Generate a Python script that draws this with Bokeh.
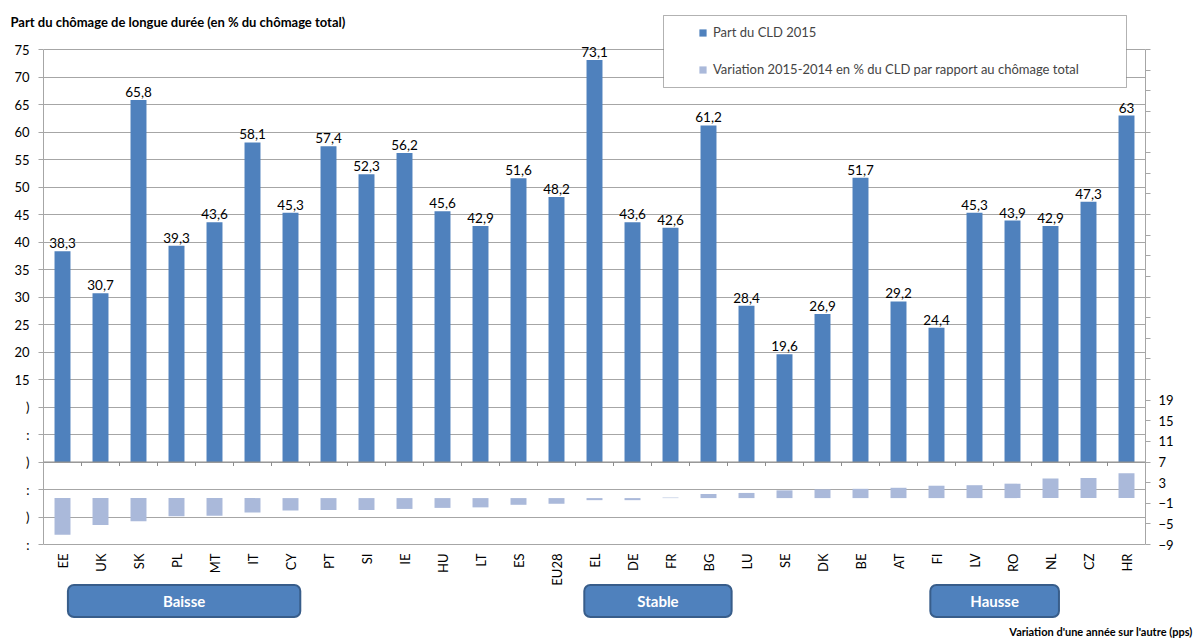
from math import pi

from bokeh.plotting import figure
from bokeh.models import (ColumnDataSource, FactorRange, Range1d, LinearAxis, FixedTicker,
                          Span, Label, LabelSet, Legend, LegendItem, BoxAnnotation)
from bokeh.core.properties import value
from bokeh.embed import file_html
from bokeh.resources import INLINE

# Countries, ordered by the 2015-2014 change
countries = ["EE", "UK", "SK", "PL", "MT", "IT", "CY", "PT", "SI", "IE", "HU", "LT", "ES", "EU28",
             "EL", "DE", "FR", "BG", "LU", "SE", "DK", "BE", "AT", "FI", "LV", "RO", "NL", "CZ", "HR"]

# Long-term unemployment share, 2015 (% of total unemployment)
cld_2015 = [38.3, 30.7, 65.8, 39.3, 43.6, 58.1, 45.3, 57.4, 52.3, 56.2, 45.6, 42.9, 51.6, 48.2,
            73.1, 43.6, 42.6, 61.2, 28.4, 19.6, 26.9, 51.7, 29.2, 24.4, 45.3, 43.9, 42.9, 47.3, 63.0]

# Change 2015-2014 (percentage points)
variation = [-7.1, -5.2, -4.5, -3.5, -3.4, -2.8, -2.4, -2.3, -2.3, -2.1, -1.9, -1.8, -1.3, -1.1,
             -0.4, -0.4, 0.1, 0.8, 1.0, 1.5, 1.7, 1.8, 2.0, 2.4, 2.5, 2.8, 3.8, 3.9, 4.8]

# Axis ticks: share (left) and change (right)
left_ticks = list(range(-15, 80, 5))
right_ticks = list(range(-9, 88, 4))

# Group boxes under the country names: (text, centre on the category axis, box width px)
groups = [("Baisse", 3.70, 241), ("Stable", 16.17, 157), ("Hausse", 25.03, 131)]

FONT = "Lato"
BLUE = "#4F81BD"
BLUE_EDGE = "#385D8A"
LIGHT = "#AAB9DA"
GRID = "#A6A6A6"
AXIS0 = "#8C8C8C"

# Page geometry (pixels)
W, H = 1195, 638
LEFT, RIGHT = 43, 1145           # plot area edges
TOP_75, BOT_MIN = 49, 544        # where 75 and -15 sit on the left axis
FRAME_TOP, FRAME_BOT = 14, 620   # drawing frame, taller than the plot area
CAT_PX = (RIGHT - LEFT) / len(countries)

lo, hi = left_ticks[0], left_ticks[-1]
ppu = (BOT_MIN - TOP_75) / (hi - lo)
y_start = lo - (FRAME_BOT - BOT_MIN) / ppu
y_end = hi + (TOP_75 - FRAME_TOP) / ppu

rlo, rhi = right_ticks[0], right_ticks[-1]
rppu = (BOT_MIN - TOP_75) / (rhi - rlo)
ry_start = rlo - (FRAME_BOT - BOT_MIN) / rppu
ry_end = rhi + (TOP_75 - FRAME_TOP) / rppu


def y_at(px):
    """Left-axis value at a given pixel row."""
    return hi - (px - TOP_75) / ppu


def x_at(px):
    """Category-axis coordinate at a given pixel column."""
    return (px - LEFT) / CAT_PX


def fmt(v):
    return f"{v:g}".replace(".", ",")


src = ColumnDataSource(dict(
    country=countries, cld=cld_2015, var=variation, lbl=[fmt(v) for v in cld_2015],
))

p = figure(width=W, height=H, x_range=FactorRange(factors=countries, range_padding=0),
           y_range=Range1d(y_start, y_end), output_backend="svg", toolbar_location=None,
           x_axis_location=None,
           min_border_left=LEFT, min_border_right=W - RIGHT,
           min_border_top=FRAME_TOP, min_border_bottom=H - FRAME_BOT)
p.outline_line_color = None
p.background_fill_color = "white"
p.border_fill_color = "white"

p.extra_y_ranges = {"var": Range1d(ry_start, ry_end)}

# Bars
r_cld = p.vbar(x="country", top="cld", bottom=0, width=0.42, source=src,
               fill_color=BLUE, line_color=None)
r_var = p.vbar(x="country", top="var", bottom=0, width=0.42, source=src, y_range_name="var",
               fill_color=LIGHT, line_color=None)

# Value labels on the 2015 bars
p.add_layout(LabelSet(x="country", y="cld", text="lbl", source=src, y_offset=3,
                      text_align="center", text_baseline="bottom", text_font=value(FONT),
                      text_font_size="13.5px", text_color="#000000"))

# Left axis
yax = p.yaxis[0]
yax.ticker = FixedTicker(ticks=left_ticks)
yax.bounds = (lo, hi)
yax.major_label_overrides = {10: ")", 5: ":", 0: ")", -5: ":", -10: ")", -15: ":"}
yax.major_label_text_font = FONT
yax.major_label_text_font_size = "13px"
yax.major_label_text_color = "#000000"
yax.axis_line_color = GRID
yax.major_tick_line_color = GRID
yax.major_tick_out = 5
yax.major_tick_in = 0
yax.minor_tick_line_color = None
yax.major_label_standoff = 9

# Right axis for the change series
rax = LinearAxis(y_range_name="var", ticker=FixedTicker(ticks=right_ticks), bounds=(rlo, rhi))
rax.major_label_overrides = {t: "" for t in right_ticks if t > 19}
rax.major_label_text_font = FONT
rax.major_label_text_font_size = "13px"
rax.major_label_text_color = "#000000"
rax.axis_line_color = GRID
rax.major_tick_line_color = GRID
rax.major_tick_out = 5
rax.major_tick_in = 0
rax.minor_tick_line_color = None
rax.major_label_standoff = 8
p.add_layout(rax, "right")

p.xgrid.grid_line_color = None
p.ygrid.grid_line_color = GRID
p.ygrid.ticker = FixedTicker(ticks=left_ticks)

# Zero line with category separators
p.add_layout(Span(location=0, dimension="width", line_color=AXIS0, line_width=1))
seps = list(range(1, len(countries)))
p.segment(x0=seps, x1=seps, y0=[0] * len(seps), y1=[-4 / ppu] * len(seps),
          line_color=AXIS0, line_width=1)

# Country names, written upwards under the plot area
p.text(x="country", y=lo, text="country", source=src, angle=pi / 2, y_offset=9,
       text_align="right", text_baseline="middle", text_font=value(FONT),
       text_font_size="13px", text_color="#000000")

# Title (hosted in the bottom panel, drawn at the top left of the page)
p.add_layout(Label(x=x_at(10), y=y_at(21),
                   text="Part du chômage de longue durée (en % du chômage total)",
                   text_font=FONT, text_font_size="13px", text_font_style="bold",
                   text_align="left", text_baseline="middle", text_color="#000000"), "below")

# Legend frame and entries
p.add_layout(BoxAnnotation(left=x_at(663), right=x_at(1126), top=y_at(FRAME_TOP + 1),
                           bottom=y_at(87), fill_color="white", fill_alpha=1,
                           line_color="black", line_width=1), "above")
legend = Legend(items=[LegendItem(label="Part du CLD 2015", renderers=[r_cld]),
                       LegendItem(label="Variation 2015-2014 en % du CLD par rapport au chômage total",
                                  renderers=[r_var])],
                location=(698 - LEFT, FRAME_BOT - 78), orientation="vertical", padding=0, margin=0,
                spacing=19, label_height=18, glyph_width=9, glyph_height=9,
                label_standoff=6, label_text_font=FONT, label_text_font_size="13px",
                border_line_color=None, background_fill_alpha=0, level="overlay")
p.add_layout(legend)

# Group boxes
for text, centre, width in groups:
    est_w = 0.56 * 15 * len(text)
    pad = max(int(round((width - est_w) / 2)), 0)
    p.add_layout(Label(x=centre, y=y_at(600.5), text=text, text_font=FONT, text_font_size="15px",
                       text_font_style="bold", text_color="white", text_align="center",
                       text_baseline="middle", background_fill_color=BLUE,
                       border_line_color=BLUE_EDGE, border_line_width=2, border_radius=6,
                       padding=dict(left=pad, right=pad, top=7, bottom=7)))

# Axis note (hosted in the top panel, drawn at the bottom right of the page)
p.add_layout(Label(x=x_at(1192), y=y_at(631), text="Variation d'une année sur l'autre (pps)",
                   text_font=FONT, text_font_size="11px", text_font_style="bold",
                   text_align="right", text_baseline="middle", text_color="#000000"), "above")

open("out.html", "w").write(file_html(p, INLINE))
